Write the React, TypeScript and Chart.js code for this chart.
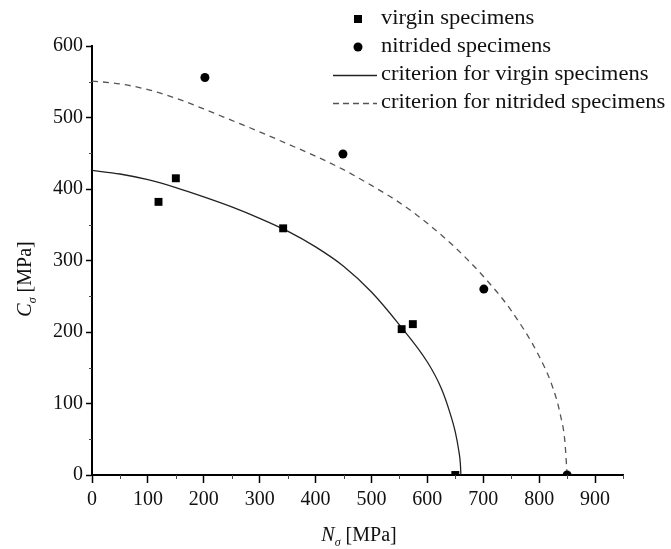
import React, { useEffect, useRef } from "react";
import { Chart, registerables } from "chart.js";

Chart.register(...registerables);

// ---- data ----
const xMajorTicks = [0, 100, 200, 300, 400, 500, 600, 700, 800, 900];
const yMajorTicks = [0, 100, 200, 300, 400, 500, 600];
const xMinorTicks = [50, 150, 250, 350, 450, 550, 650, 750, 850, 950];
const yMinorTicks = [50, 150, 250, 350, 450, 550];

const virginN = [119, 150, 342, 554, 574, 650];
const virginC = [382, 415, 345, 204, 211, 0];

const nitridedN = [202, 449, 701, 850];
const nitridedC = [556, 449, 260, 0];

const virginCurveN = [0, 50, 100, 150, 200, 250, 300, 350, 400, 450, 500, 550, 600, 625, 640, 650, 656, 659, 660];
const virginCurveC = [426, 421, 413, 402, 389, 375, 359, 341, 319, 292, 256, 210, 158, 121, 88, 60, 35, 16, 0];

const nitridedCurveN = [0, 50, 100, 150, 200, 250, 300, 350, 400, 450, 500, 550, 600, 650, 700, 750, 800, 825, 838, 846, 850];
const nitridedCurveC = [551, 547, 539, 527, 512, 496, 480, 463, 446, 427, 405, 381, 352, 318, 278, 230, 166, 121, 84, 47, 0];

const legendLabels = [
  "virgin specimens",
  "nitrided specimens",
  "criterion for virgin specimens",
  "criterion for nitrided specimens",
];

const SERIF = "'Liberation Serif', 'Times New Roman', serif";

const toPts = (xs: number[], ys: number[]) => xs.map((x, i) => ({ x, y: ys[i] }));

const decorPlugin = {
  id: "decor",
  afterDraw(chart: any) {
    const ctx: CanvasRenderingContext2D = chart.ctx;
    const xs = chart.scales.x;
    const ys = chart.scales.y;
    const area = chart.chartArea;
    ctx.save();
    // minor ticks
    ctx.strokeStyle = "#444";
    ctx.lineWidth = 1;
    xMinorTicks.forEach((v) => {
      const px = Math.round(xs.getPixelForValue(v)) + 0.5;
      ctx.beginPath();
      ctx.moveTo(px, area.bottom);
      ctx.lineTo(px, area.bottom + 4);
      ctx.stroke();
    });
    yMinorTicks.forEach((v) => {
      const py = Math.round(ys.getPixelForValue(v)) + 0.5;
      ctx.beginPath();
      ctx.moveTo(area.left - 3, py);
      ctx.lineTo(area.left, py);
      ctx.stroke();
    });

    // legend
    const lx = 381;
    const rows = [19, 47, 75, 103];
    const mx = 358;
    ctx.fillStyle = "#000";
    ctx.fillRect(mx - 4, rows[0] - 4, 8, 8);
    ctx.beginPath();
    ctx.arc(mx, rows[1], 4.5, 0, Math.PI * 2);
    ctx.fill();
    ctx.strokeStyle = "#222";
    ctx.lineWidth = 1.3;
    ctx.beginPath();
    ctx.moveTo(333, rows[2] + 0.5);
    ctx.lineTo(377, rows[2] + 0.5);
    ctx.stroke();
    ctx.strokeStyle = "#555";
    ctx.setLineDash([6, 4]);
    ctx.beginPath();
    ctx.moveTo(333, rows[3] + 0.5);
    ctx.lineTo(377, rows[3] + 0.5);
    ctx.stroke();
    ctx.setLineDash([]);
    ctx.fillStyle = "#111";
    ctx.font = `20px ${SERIF}`;
    ctx.textBaseline = "middle";
    ctx.textAlign = "left";
    legendLabels.forEach((t, i) => {
      ctx.save();
      ctx.translate(lx, rows[i]);
      ctx.scale(1.13, 1);
      ctx.fillText(t, 0, 0);
      ctx.restore();
    });

    // axis titles with subscript
    const drawLabel = (letter: string, cx: number, cy: number, rot: number) => {
      ctx.save();
      ctx.translate(cx, cy);
      ctx.rotate(rot);
      ctx.textBaseline = "middle";
      ctx.font = `italic 20px ${SERIF}`;
      const w1 = ctx.measureText(letter).width;
      ctx.font = `italic 12px ${SERIF}`;
      const w2 = ctx.measureText("σ").width;
      ctx.font = `20px ${SERIF}`;
      const w3 = ctx.measureText(" [MPa]").width;
      const total = w1 + w2 + w3;
      let x = -total / 2;
      ctx.font = `italic 20px ${SERIF}`;
      ctx.fillText(letter, x, 0);
      x += w1;
      ctx.font = `italic 12px ${SERIF}`;
      ctx.fillText("σ", x, 7);
      x += w2;
      ctx.font = `20px ${SERIF}`;
      ctx.fillText(" [MPa]", x, 0);
      ctx.restore();
    };
    drawLabel("N", 359, 536, 0);
    drawLabel("C", 26, 279, -Math.PI / 2);
    ctx.restore();
  },
};

export default function App() {
  const ref = useRef<HTMLCanvasElement | null>(null);
  useEffect(() => {
    if (!ref.current) return;
    const tickFont = { family: SERIF, size: 20 };
    const chart = new Chart(ref.current, {
      type: "scatter",
      data: {
        datasets: [
          {
            label: legendLabels[0],
            data: toPts(virginN, virginC),
            pointStyle: "rect",
            pointRadius: 5.6,
            backgroundColor: "#000",
            borderColor: "#000",
            borderWidth: 0,
            order: 0,
          },
          {
            label: legendLabels[1],
            data: toPts(nitridedN, nitridedC),
            pointStyle: "circle",
            pointRadius: 4.5,
            backgroundColor: "#000",
            borderColor: "#000",
            borderWidth: 0,
            order: 1,
          },
          {
            label: legendLabels[2],
            data: toPts(virginCurveN, virginCurveC),
            showLine: true,
            pointRadius: 0,
            borderColor: "#222",
            borderWidth: 1.3,
            cubicInterpolationMode: "monotone",
            order: 2,
          },
          {
            label: legendLabels[3],
            data: toPts(nitridedCurveN, nitridedCurveC),
            showLine: true,
            pointRadius: 0,
            borderColor: "#555",
            borderWidth: 1.3,
            borderDash: [6, 5],
            cubicInterpolationMode: "monotone",
            order: 3,
          },
        ],
      },
      options: {
        animation: false,
        responsive: true,
        maintainAspectRatio: false,
        layout: { padding: { top: 46, right: 48, left: 0, bottom: 0 } },
        plugins: {
          legend: { display: false },
          tooltip: { enabled: false },
        },
        scales: {
          x: {
            type: "linear",
            min: 0,
            max: 950,
            ticks: {
              stepSize: 100,
              font: tickFont,
              color: "#111",
              padding: 5,
              maxRotation: 0,
              autoSkip: false,
            },
            afterBuildTicks: (s: any) => {
              s.ticks = xMajorTicks.map((v) => ({ value: v }));
            },
            afterFit: (s: any) => {
              s.height = 74;
            },
            grid: {
              display: true,
              drawOnChartArea: false,
              drawTicks: true,
              tickLength: 8,
              tickColor: "#000",
              tickWidth: 1.5,
            },
            border: { display: true, color: "#000", width: 2 },
            title: { display: false },
          },
          y: {
            type: "linear",
            min: 0,
            max: 600,
            ticks: {
              stepSize: 100,
              font: tickFont,
              color: "#111",
              padding: 3,
              autoSkip: false,
            },
            afterBuildTicks: (s: any) => {
              s.ticks = yMajorTicks.map((v) => ({ value: v }));
            },
            afterFit: (s: any) => {
              s.width = 92;
            },
            grid: {
              display: true,
              drawOnChartArea: false,
              drawTicks: true,
              tickLength: 6,
              tickColor: "#000",
              tickWidth: 1.5,
            },
            border: { display: true, color: "#000", width: 2 },
            title: { display: false },
          },
        },
      },
      plugins: [decorPlugin],
    } as any);
    return () => chart.destroy();
  }, []);

  return (
    <div style={{ position: "fixed", left: 0, top: 0, width: 671, height: 549, background: "#fff" }}>
      <canvas ref={ref} />
    </div>
  );
}
